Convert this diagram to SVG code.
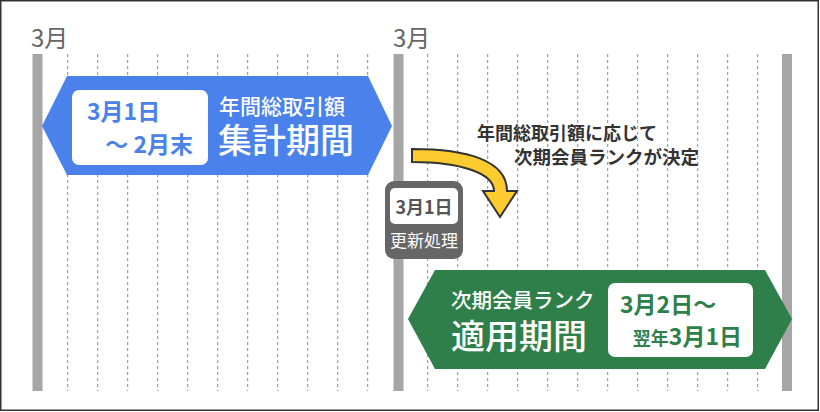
<svg xmlns="http://www.w3.org/2000/svg" width="820" height="412" viewBox="0 0 820 412">
<style>
text{font-family:"Noto Sans CJK JP","Noto Sans",sans-serif}
.bar{fill:#a6a6a6}
.dash{stroke:#8c8c8c;stroke-width:1;stroke-dasharray:3 3;fill:none}
.mon{font-size:24px;fill:#666}
.w{fill:#fff}
.b{font-weight:700}
</style>
<rect x="0.75" y="0.75" width="817.5" height="409.5" fill="#fff" stroke="#333" stroke-width="1.5"/>
<g id="timeline">
<g class="dash">
<path d="M67.7 54V391M97.7 54V391M127.7 54V391M157.7 54V391M187.7 54V391M217.7 54V391M247.7 54V391M277.7 54V391M307.7 54V391M337.7 54V391M367.7 54V391"/>
<path d="M427.7 54V391M457.7 54V391M487.7 54V391M517.7 54V391M547.7 54V391M577.7 54V391M607.7 54V391M637.7 54V391M667.7 54V391M697.7 54V391M727.7 54V391M757.7 54V391"/>
</g>
<rect class="bar" x="32.5" y="54" width="10" height="337"/>
<rect class="bar" x="393.5" y="54" width="10" height="337"/>
<rect class="bar" x="782" y="54" width="10" height="337"/>
<text class="mon" x="31" y="47">3月</text>
<text class="mon" x="393" y="47">3月</text>
</g>
<g id="aggregate">
<polygon points="42,126 67,76 368,76 392,126 368,175 67,175" fill="#4a81ea"/>
<rect x="72" y="90" width="136" height="75" rx="7" fill="#fff"/>
<text x="87" y="120" class="b" font-size="23" fill="#4a81ea">3月1日</text>
<text x="193" y="153" class="b" font-size="23" fill="#4a81ea" text-anchor="end">～ 2月末</text>
<text x="219" y="114" class="w" font-size="21" font-weight="500">年間総取引額</text>
<text x="218" y="153" class="w" font-size="34" font-weight="500">集計期間</text>
</g>
<g id="connectors">
<path d="M412 149C466 149 507 160 507 191L517 191L500 217L483 191L494 191C494 173 460 162 412 162Z" fill="#fccb2f" stroke="#333" stroke-width="2" stroke-linejoin="miter"/>
</g>
<g id="note">
<text x="477" y="140" class="b" font-size="18" fill="#333">年間総取引額に応じて</text>
<text x="699" y="164" class="b" font-size="18.5" fill="#333" text-anchor="end">次期会員ランクが決定</text>
</g>
<g id="update">
<rect x="385" y="181" width="78" height="78" rx="9" fill="#666"/>
<rect x="390" y="188" width="68" height="36" rx="5" fill="#fff"/>
<text x="424" y="214" class="b" font-size="18" fill="#555" text-anchor="middle">3月1日</text>
<text x="424" y="247" class="w" font-size="17" text-anchor="middle">更新処理</text>
</g>
<g id="apply">
<polygon points="408,319 435,270 765,270 792,319 765,369 435,369" fill="#2f7f4b"/>
<text x="451" y="308" class="w" font-size="20.5" font-weight="500">次期会員ランク</text>
<text x="451" y="349" class="w" font-size="34" font-weight="500">適用期間</text>
<rect x="608" y="283" width="145" height="74" rx="7" fill="#fff"/>
<text x="620" y="313" class="b" font-size="23" fill="#2f7f4b">3月2日～</text>
<text x="742" y="345" class="b" fill="#2f7f4b" text-anchor="end"><tspan font-size="18">翌年</tspan><tspan font-size="23">3月1日</tspan></text>
</g>
</svg>
